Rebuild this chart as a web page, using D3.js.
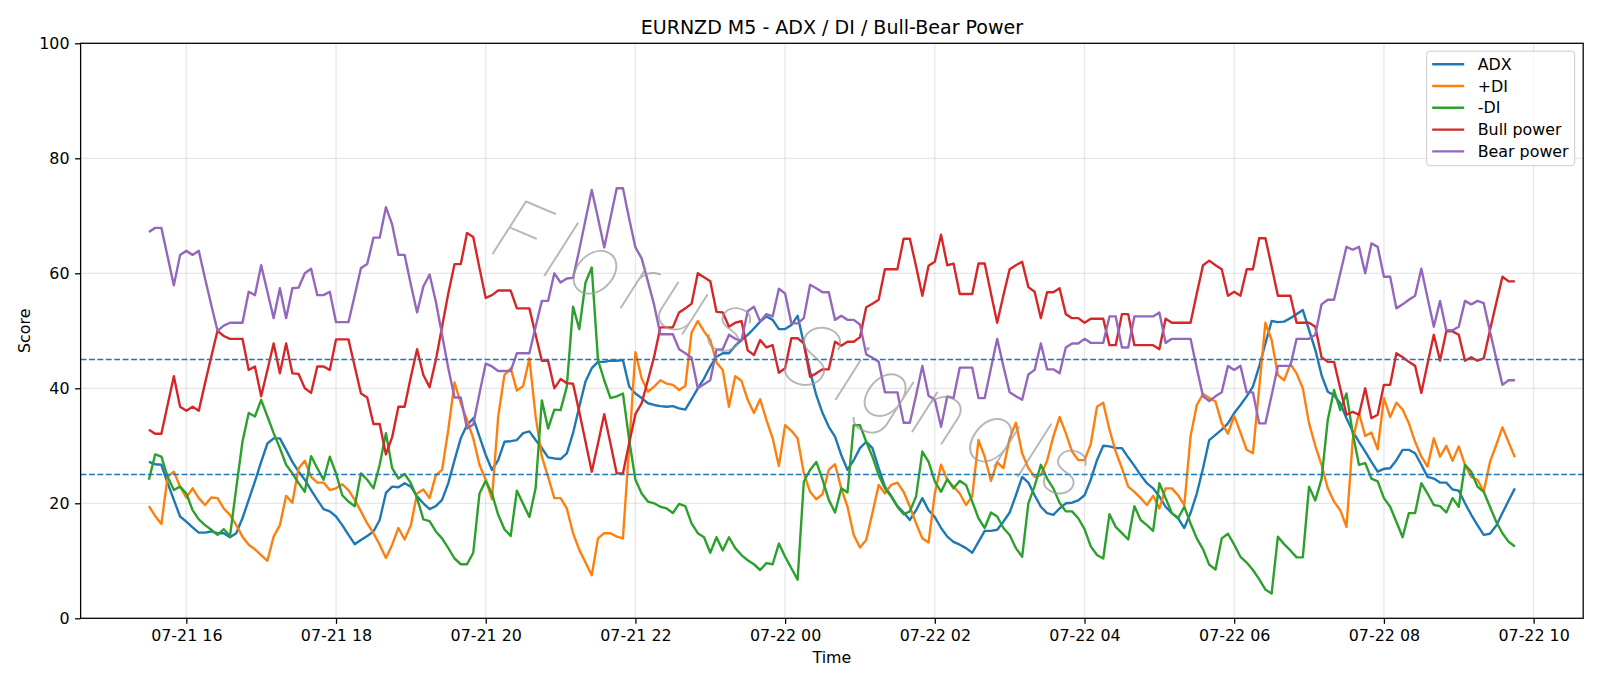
<!DOCTYPE html>
<html>
<head>
<meta charset="utf-8">
<script src="https://cdn.jsdelivr.net/npm/d3@7"></script>
<style>
    body { margin: 0; background: #fff; }
    svg text { font-family: "DejaVu Sans", sans-serif; }
</style>
</head>
<body>
<div id="chart"></div>
<script>
// M5 bars, first bar 07-21 15:30
var startTime = new Date(2025, 6, 21, 15, 30);
var stepMinutes = 5;

var adx = [
    27.2, 26.8, 26.7, 23.5, 20.6, 17.7, 16.8, 15.8, 14.9, 14.9,
    15.1, 14.8, 14.8, 14.1, 14.8, 17.4, 20.6, 23.8, 27.2, 30.4,
    31.3, 31.3, 29.3, 27.2, 25.5, 24.1, 22.3, 20.6, 19.0, 18.6,
    17.7, 16.2, 14.5, 12.9, 13.6, 14.3, 15.1, 17.1, 21.8, 22.9,
    22.8, 23.5, 22.9, 21.2, 20.0, 19.0, 19.5, 20.6, 23.5, 27.5,
    31.3, 33.6, 34.8, 31.6, 28.4, 25.8, 27.5, 30.7, 30.8, 31.0,
    32.2, 32.5, 31.0, 29.6, 28.0, 27.8, 27.7, 28.7, 32.2, 36.8,
    41.2, 43.5, 44.6, 44.6, 44.8, 44.8, 44.9, 40.3, 39.1, 38.3,
    37.4, 37.1, 36.9, 36.8, 36.9, 36.5, 36.3, 38.1, 40.0, 41.7,
    43.8, 45.5, 46.1, 46.1, 47.4, 48.4, 49.3, 50.4, 51.6, 52.5,
    51.9, 50.3, 50.3, 51.0, 52.6, 47.8, 42.9, 38.8, 35.7, 33.3,
    31.6, 28.4, 25.8, 27.5, 29.6, 30.7, 29.6, 26.1, 22.9, 21.3,
    19.5, 18.4, 17.1, 18.8, 20.9, 18.8, 17.6, 15.7, 14.2, 13.3,
    12.8, 12.2, 11.4, 13.3, 15.2, 15.2, 15.4, 16.8, 18.4, 21.4,
    24.6, 23.6, 21.4, 19.4, 18.3, 18.0, 19.1, 20.0, 20.1, 20.5,
    21.4, 24.1, 27.5, 30.0, 29.9, 29.6, 29.6, 28.0, 26.5, 24.9,
    23.5, 22.6, 21.2, 19.4, 18.3, 17.4, 15.7, 18.3, 21.7, 26.1,
    31.0, 31.9, 32.8, 33.9, 35.7, 37.1, 38.6, 40.3, 43.8, 47.8,
    51.7, 51.5, 51.6, 52.2, 52.9, 53.6, 50.1, 46.7, 42.3, 39.4,
    38.8, 37.4, 34.8, 32.5, 30.7, 29.0, 27.2, 25.5, 26.0, 26.1,
    27.5, 29.3, 29.3, 28.7, 26.7, 24.6, 24.3, 23.6, 23.6, 22.4,
    22.2, 20.0, 18.0, 16.2, 14.5, 14.7, 16.1, 18.3, 20.5, 22.6
];

var plusDI = [
    19.5, 17.8, 16.4, 24.6, 25.5, 22.9, 21.0, 22.6, 20.9, 19.7,
    21.0, 20.9, 19.1, 18.0, 16.2, 14.2, 12.8, 12.0, 11.0, 10.0,
    14.2, 16.2, 21.3, 20.1, 26.1, 27.4, 24.6, 23.6, 23.6, 22.3,
    22.6, 23.3, 22.3, 20.6, 18.6, 16.5, 14.8, 12.8, 10.5, 12.8,
    15.7, 13.7, 16.2, 21.7, 22.4, 20.9, 24.9, 25.8, 32.8, 41.0,
    37.4, 34.5, 31.3, 26.7, 24.1, 20.7, 35.1, 42.3, 43.5, 39.6,
    40.4, 45.2, 35.1, 28.1, 24.6, 20.9, 20.9, 19.1, 14.8, 11.9,
    9.7, 7.5, 13.9, 14.8, 14.8, 14.2, 13.9, 30.0, 46.3, 41.7,
    39.4, 40.3, 41.4, 40.8, 40.6, 39.7, 40.4, 49.7, 51.7, 49.9,
    48.4, 44.5, 43.2, 36.8, 42.1, 41.3, 38.0, 35.7, 38.1, 34.5,
    31.3, 26.5, 33.6, 32.6, 31.3, 25.2, 22.0, 20.7, 21.6, 25.8,
    26.8, 22.6, 19.4, 14.5, 12.3, 13.6, 18.3, 23.2, 21.7, 23.2,
    23.6, 22.0, 19.4, 16.5, 13.9, 13.2, 21.7, 26.7, 24.1, 22.9,
    21.7, 19.7, 21.2, 31.0, 28.1, 23.9, 27.1, 26.1, 31.3, 34.0,
    28.7, 26.1, 24.6, 24.9, 27.4, 31.6, 35.0, 32.2, 29.0, 27.5,
    27.5, 30.3, 36.8, 37.5, 32.8, 29.0, 26.1, 22.9, 22.0, 20.9,
    19.7, 21.3, 19.1, 22.6, 22.6, 21.4, 19.7, 31.6, 37.1, 39.0,
    38.3, 37.7, 33.9, 32.1, 35.2, 32.3, 29.3, 28.7, 40.0, 51.4,
    48.4, 42.3, 41.4, 44.2, 42.6, 40.0, 33.9, 30.0, 26.7, 22.6,
    20.3, 18.8, 15.9, 31.0, 35.7, 31.7, 32.3, 29.4, 38.3, 35.0,
    37.5, 36.3, 33.9, 30.7, 28.1, 26.4, 31.3, 28.1, 30.0, 27.4,
    29.9, 26.7, 24.6, 24.1, 22.0, 27.2, 30.1, 33.2, 30.6, 28.0
];

var minusDI = [
    24.1, 28.5, 28.1, 24.6, 22.3, 22.9, 21.7, 18.8, 17.2, 16.2,
    15.4, 14.5, 15.5, 14.3, 22.6, 30.7, 35.7, 35.1, 38.0, 35.1,
    32.2, 29.6, 26.7, 25.2, 23.5, 22.0, 28.2, 26.1, 24.1, 28.1,
    25.2, 21.4, 20.3, 19.5, 25.2, 24.1, 22.6, 26.7, 32.2, 26.1,
    24.3, 25.1, 23.5, 20.9, 17.2, 16.9, 15.1, 13.9, 12.2, 10.4,
    9.4, 9.4, 11.4, 21.7, 23.9, 21.7, 18.0, 15.5, 14.3, 22.2,
    19.9, 17.6, 22.6, 37.9, 33.0, 36.3, 36.2, 40.3, 54.2, 50.3,
    58.4, 61.0, 44.9, 41.4, 38.3, 38.6, 39.1, 31.0, 24.1, 21.7,
    20.3, 20.0, 19.4, 19.1, 18.3, 19.9, 19.5, 16.5, 14.8, 14.1,
    11.4, 14.1, 11.8, 14.1, 12.2, 11.0, 10.1, 9.4, 8.4, 9.6,
    9.4, 13.0, 10.7, 8.7, 6.7, 23.8, 25.8, 27.2, 24.1, 20.6,
    18.4, 22.6, 21.9, 33.6, 33.6, 30.7, 28.1, 24.9, 22.6, 21.2,
    19.4, 18.1, 18.6, 21.2, 29.0, 27.2, 23.8, 22.0, 24.2, 22.6,
    23.9, 23.2, 20.3, 17.4, 15.7, 18.4, 17.7, 15.7, 14.5, 12.2,
    10.7, 20.0, 23.0, 26.7, 24.3, 22.6, 20.1, 18.6, 18.6, 17.4,
    15.5, 12.5, 11.0, 10.4, 18.1, 15.9, 14.8, 13.7, 19.5, 17.1,
    16.2, 15.2, 23.5, 20.9, 18.3, 17.4, 19.4, 16.5, 13.9, 12.0,
    9.3, 8.5, 13.9, 14.7, 12.8, 10.7, 9.7, 8.4, 6.8, 5.0,
    4.3, 14.2, 12.9, 11.8, 10.6, 10.6, 22.9, 20.5, 24.2, 34.5,
    39.7, 36.2, 39.1, 32.2, 26.7, 27.0, 24.3, 23.8, 20.9, 19.4,
    16.8, 14.1, 18.3, 18.3, 23.5, 21.7, 19.7, 19.5, 18.4, 20.9,
    19.4, 26.7, 25.5, 22.9, 22.0, 19.4, 16.8, 14.8, 13.3, 12.5
];

var bullPower = [
    32.8, 32.1, 32.1, 37.1, 42.1, 36.8, 36.1, 36.8, 36.1, 40.9,
    45.5, 50.0, 49.1, 48.6, 48.6, 48.6, 43.2, 43.8, 38.6, 43.2,
    47.8, 42.6, 47.8, 42.6, 42.5, 40.0, 39.2, 43.8, 43.8, 43.2,
    48.5, 48.5, 48.5, 43.8, 39.1, 38.4, 33.8, 33.8, 28.5, 31.5,
    36.8, 36.8, 42.0, 46.8, 42.3, 40.2, 44.9, 50.7, 56.5, 61.6,
    61.6, 67.0, 66.3, 60.9, 55.7, 56.2, 57.0, 57.0, 57.0, 53.9,
    53.9, 53.9, 49.3, 44.8, 44.8, 40.0, 41.6, 40.9, 40.8, 35.9,
    30.7, 25.5, 30.4, 35.5, 30.4, 25.2, 25.2, 30.5, 35.5, 37.4,
    41.4, 45.5, 50.6, 50.6, 50.6, 53.2, 53.9, 54.7, 60.0, 59.3,
    58.6, 53.3, 53.2, 50.7, 51.4, 51.7, 46.6, 45.8, 48.4, 47.1,
    47.5, 42.7, 43.5, 48.7, 48.7, 47.8, 42.0, 42.6, 43.3, 43.3,
    48.1, 47.4, 48.1, 48.1, 48.9, 54.1, 54.7, 55.4, 60.7, 60.7,
    60.7, 66.0, 66.0, 61.2, 56.1, 61.3, 62.0, 66.7, 61.4, 61.7,
    56.4, 56.4, 56.4, 61.7, 61.7, 56.5, 51.4, 56.2, 60.7, 61.4,
    62.0, 57.6, 56.8, 52.2, 56.7, 56.7, 57.4, 52.9, 52.2, 52.2,
    51.4, 52.1, 52.1, 52.1, 47.5, 47.5, 52.9, 52.9, 47.5, 47.5,
    47.5, 47.5, 46.8, 52.1, 51.4, 51.4, 51.4, 51.4, 56.5, 61.4,
    62.2, 61.4, 60.7, 56.1, 56.8, 56.1, 60.7, 60.7, 66.1, 66.1,
    61.2, 56.1, 56.1, 56.1, 51.4, 51.4, 51.4, 50.7, 45.4, 44.6,
    44.6, 40.0, 35.4, 35.9, 35.4, 40.0, 34.8, 35.4, 40.6, 40.6,
    46.1, 45.4, 44.6, 43.9, 39.2, 44.3, 49.3, 44.8, 49.9, 49.9,
    49.3, 44.8, 45.4, 44.8, 45.2, 50.1, 54.8, 59.4, 58.6, 58.6
];

var bearPower = [
    67.2, 67.9, 67.9, 62.9, 57.9, 63.2, 63.9, 63.2, 63.9, 59.1,
    54.5, 50.0, 50.9, 51.4, 51.4, 51.4, 56.8, 56.2, 61.4, 56.8,
    52.2, 57.4, 52.2, 57.4, 57.5, 60.0, 60.8, 56.2, 56.2, 56.8,
    51.5, 51.5, 51.5, 56.2, 60.9, 61.6, 66.2, 66.2, 71.5, 68.5,
    63.2, 63.2, 58.0, 53.2, 57.7, 59.8, 55.1, 49.3, 43.5, 38.4,
    38.4, 33.0, 33.7, 39.1, 44.3, 43.8, 43.0, 43.0, 43.0, 46.1,
    46.1, 46.1, 50.7, 55.2, 55.2, 60.0, 58.4, 59.1, 59.2, 64.1,
    69.3, 74.5, 69.6, 64.5, 69.6, 74.8, 74.8, 69.5, 64.5, 62.6,
    58.6, 54.5, 49.4, 49.4, 49.4, 46.8, 46.1, 45.3, 40.0, 40.7,
    41.4, 46.7, 46.8, 49.3, 48.6, 48.3, 53.4, 54.2, 51.6, 52.9,
    52.5, 57.3, 56.5, 51.3, 51.3, 52.2, 58.0, 57.4, 56.7, 56.7,
    51.9, 52.6, 51.9, 51.9, 51.1, 45.9, 45.3, 44.6, 39.3, 39.3,
    39.3, 34.0, 34.0, 38.8, 43.9, 38.7, 38.0, 33.3, 38.6, 38.3,
    43.6, 43.6, 43.6, 38.3, 38.3, 43.5, 48.6, 43.8, 39.3, 38.6,
    38.0, 42.4, 43.2, 47.8, 43.3, 43.3, 42.6, 47.1, 47.8, 47.8,
    48.6, 47.9, 47.9, 47.9, 52.5, 52.5, 47.1, 47.1, 52.5, 52.5,
    52.5, 52.5, 53.2, 47.9, 48.6, 48.6, 48.6, 48.6, 43.5, 38.6,
    37.8, 38.6, 39.3, 43.9, 43.2, 43.9, 39.3, 39.3, 33.9, 33.9,
    38.8, 43.9, 43.9, 43.9, 48.6, 48.6, 48.6, 49.3, 54.6, 55.4,
    55.4, 60.0, 64.6, 64.1, 64.6, 60.0, 65.2, 64.6, 59.4, 59.4,
    53.9, 54.6, 55.4, 56.1, 60.8, 55.7, 50.7, 55.2, 50.1, 50.1,
    50.7, 55.2, 54.6, 55.2, 54.8, 49.9, 45.2, 40.6, 41.4, 41.4
];

var seriesNames = ["ADX", "+DI", "-DI", "Bull power", "Bear power"];
var seriesColors = ["#1f77b4", "#ff7f0e", "#2ca02c", "#d62728", "#9467bd"];
var levels = [25, 45];
var yTicks = [0, 20, 40, 60, 80, 100];

var series = [adx, plusDI, minusDI, bullPower, bearPower];
var times = adx.map((d, i) => d3.timeMinute.offset(startTime, i * stepMinutes));

// figure is 14 x 6 in at ~114 dpi, so 1pt = 1.587px
var pt = 1600 / 14 / 72;
var margin = {top: 43.3, right: 16.8, bottom: 67.7, left: 80.6};
var width = 1600 - margin.left - margin.right;
var height = 686 - margin.top - margin.bottom;

var svg = d3.select("#chart")
    .append("svg")
    .attr("width", 1600)
    .attr("height", 686);

svg.append("rect")
    .attr("width", 1600)
    .attr("height", 686)
    .attr("fill", "#fff");

var g = svg.append("g")
    .attr("transform", `translate(${margin.left},${margin.top})`);

// matplotlib style 5% margin on the time axis
var t0 = times[0], t1 = times[times.length - 1];
var pad = (t1 - t0) * 0.05;
var xScale = d3.scaleTime()
    .domain([new Date(+t0 - pad), new Date(+t1 + pad)])
    .range([0, width]);

var yScale = d3.scaleLinear()
    .domain([0, 100])
    .range([height, 0]);

var xTicks = xScale.ticks(d3.timeHour.every(2));

// grid
var grid = g.append("g").attr("stroke", "#b0b0b0").attr("stroke-opacity", 0.3).attr("stroke-width", 0.8 * pt);
grid.selectAll(".vgrid")
    .data(xTicks)
    .join("line")
    .attr("x1", d => xScale(d)).attr("x2", d => xScale(d))
    .attr("y1", 0).attr("y2", height);
grid.selectAll(".hgrid")
    .data(yTicks)
    .join("line")
    .attr("x1", 0).attr("x2", width)
    .attr("y1", d => yScale(d)).attr("y2", d => yScale(d));

// series lines
var line = d3.line()
    .x((d, i) => xScale(times[i]))
    .y(d => yScale(d));

g.selectAll(".series")
    .data(series)
    .join("path")
    .attr("class", "series")
    .attr("fill", "none")
    .attr("stroke", (d, i) => seriesColors[i])
    .attr("stroke-width", 1.5 * pt)
    .attr("stroke-linejoin", "round")
    .attr("d", line);

// threshold lines
g.selectAll(".level")
    .data(levels)
    .join("line")
    .attr("class", "level")
    .attr("x1", 0).attr("x2", width)
    .attr("y1", d => yScale(d)).attr("y2", d => yScale(d))
    .attr("stroke", "#1f77b4")
    .attr("stroke-width", 1 * pt)
    .attr("stroke-dasharray", `${3.7 * pt},${1.6 * pt}`);

// axes
var xAxis = g.append("g")
    .attr("transform", `translate(0,${height})`)
    .call(d3.axisBottom(xScale)
        .tickValues(xTicks)
        .tickFormat(d3.timeFormat("%m-%d %H"))
        .tickSize(3.5 * pt)
        .tickPadding(3.5 * pt));

var yAxis = g.append("g")
    .call(d3.axisLeft(yScale)
        .tickValues(yTicks)
        .tickSize(3.5 * pt)
        .tickPadding(3.5 * pt));

[xAxis, yAxis].forEach(function(ax) {
    ax.select(".domain").remove();
    ax.selectAll(".tick line").attr("stroke", "#000").attr("stroke-width", 0.8 * pt);
    ax.selectAll(".tick text")
        .attr("fill", "#000")
        .style("font-size", (10 * pt) + "px")
        .style("font-family", "'DejaVu Sans', sans-serif");
});

// spines
g.append("rect")
    .attr("width", width)
    .attr("height", height)
    .attr("fill", "none")
    .attr("stroke", "#000")
    .attr("stroke-width", 0.8 * pt);

// title and axis labels
svg.append("text")
    .attr("x", margin.left + width / 2)
    .attr("y", 33.5)
    .attr("text-anchor", "middle")
    .attr("font-size", 12 * pt)
    .text("EURNZD M5 - ADX / DI / Bull-Bear Power");

svg.append("text")
    .attr("x", margin.left + width / 2)
    .attr("y", 663)
    .attr("text-anchor", "middle")
    .attr("font-size", 10 * pt)
    .text("Time");

svg.append("text")
    .attr("transform", `translate(30,${margin.top + height / 2}) rotate(-90)`)
    .attr("text-anchor", "middle")
    .attr("font-size", 10 * pt)
    .text("Score");

// legend
var legend = svg.append("g").attr("transform", "translate(1426.7,51.2)");
legend.append("rect")
    .attr("width", 148)
    .attr("height", 114.5)
    .attr("rx", 3)
    .attr("fill", "#fff")
    .attr("fill-opacity", 0.8)
    .attr("stroke", "#cccccc")
    .attr("stroke-width", 1);

var rows = legend.selectAll(".row")
    .data(seriesNames)
    .join("g")
    .attr("transform", (d, i) => `translate(0,${13 + i * 21.8})`);
rows.append("line")
    .attr("x1", 5.5).attr("x2", 37.5)
    .attr("stroke", (d, i) => seriesColors[i])
    .attr("stroke-width", 1.5 * pt);
rows.append("text")
    .attr("x", 51)
    .attr("y", 5.6)
    .attr("font-size", 10 * pt)
    .text(d => d);

// watermark, thin light grey script across the middle
svg.append("text")
    .attr("transform", "translate(793,348) rotate(23)")
    .attr("text-anchor", "middle")
    .attr("dominant-baseline", "central")
    .style("font-family", "Inter, Lato, sans-serif")
    .style("font-size", "86px")
    .style("font-style", "italic")
    .style("font-weight", 100)
    .attr("textLength", 640)
    .attr("lengthAdjust", "spacing")
    .attr("fill", "#999999")
    .attr("fill-opacity", 0.7)
    .text("Florus Signals");
</script>
</body>
</html>
